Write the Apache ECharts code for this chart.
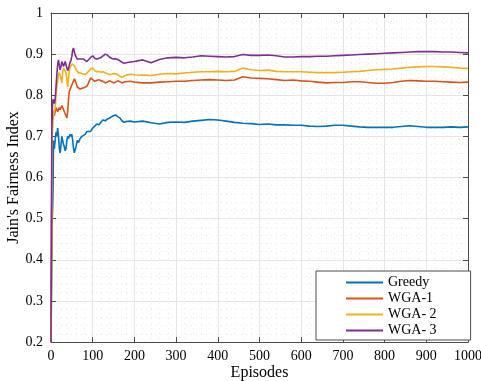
<!DOCTYPE html>
<html>
<head>
<meta charset="utf-8">
<script src="https://cdn.jsdelivr.net/npm/echarts@6/dist/echarts.min.js"></script>
<style>
  html, body { margin: 0; padding: 0; background: #fff; }
  #chart { width: 481px; height: 381px; }
</style>
</head>
<body>
<div id="chart"></div>
<script>
// episodes at which the curves were sampled
const episodes = [
  0, 1, 2, 3, 4, 5, 6, 8, 10, 12, 14, 16, 18, 20, 22, 24, 26, 28, 30, 32, 34, 36, 38, 40,
  42, 44, 46, 48, 50, 52, 54, 56, 58, 60, 63, 66, 70, 74, 78, 82, 86, 90, 95, 100, 105,
  110, 115, 120, 125, 130, 135, 140, 145, 150, 155, 160, 165, 170, 175, 180, 190,
  200, 220, 240, 260, 280, 300, 320, 340, 360, 380, 400, 420, 440, 460, 480, 500,
  520, 540, 560, 580, 600, 620, 640, 660, 680, 700, 720, 740, 760, 780, 800, 820,
  840, 860, 880, 900, 920, 940, 960, 980, 1000
];

const greedy = [
  0.20, 0.30, 0.42, 0.50, 0.53, 0.58, 0.69, 0.67, 0.69, 0.71, 0.70, 0.72, 0.70, 0.67, 0.66, 0.68,
  0.70, 0.69, 0.68, 0.675, 0.665, 0.67, 0.69, 0.70, 0.695, 0.70, 0.705, 0.70, 0.705, 0.69, 0.67, 0.66,
  0.662, 0.675, 0.69, 0.685, 0.695, 0.70, 0.698, 0.705, 0.712, 0.715, 0.712, 0.72, 0.725,
  0.73, 0.728, 0.735, 0.74, 0.738, 0.742, 0.744, 0.748, 0.75, 0.752, 0.748, 0.745, 0.738, 0.734, 0.736, 0.737,
  0.735, 0.737, 0.733, 0.730, 0.734, 0.735, 0.734, 0.737, 0.739, 0.741, 0.740, 0.737, 0.734, 0.732, 0.731, 0.729,
  0.730, 0.728, 0.728, 0.727, 0.727, 0.725, 0.724, 0.725, 0.727, 0.727, 0.725, 0.723, 0.722, 0.722, 0.722, 0.722,
  0.724, 0.726, 0.724, 0.722, 0.722, 0.722, 0.723, 0.722, 0.723
];

const wga1 = [
  0.20, 0.40, 0.62, 0.72, 0.74, 0.75, 0.76, 0.75, 0.76, 0.77, 0.768, 0.76, 0.765, 0.77, 0.765, 0.768,
  0.775, 0.77, 0.765, 0.76, 0.755, 0.75, 0.745, 0.76, 0.79, 0.81, 0.815, 0.82, 0.825, 0.83, 0.835, 0.84,
  0.842, 0.83, 0.82, 0.818, 0.815, 0.813, 0.818, 0.82, 0.822, 0.83, 0.842, 0.838, 0.834,
  0.836, 0.838, 0.835, 0.834, 0.83, 0.832, 0.835, 0.833, 0.83, 0.832, 0.835, 0.833, 0.83, 0.832, 0.833, 0.834,
  0.832, 0.830, 0.830, 0.832, 0.833, 0.834, 0.834, 0.836, 0.837, 0.838, 0.837, 0.836, 0.837, 0.845, 0.842, 0.841,
  0.840, 0.838, 0.836, 0.837, 0.835, 0.834, 0.832, 0.830, 0.831, 0.831, 0.833, 0.833, 0.831, 0.829, 0.829, 0.831,
  0.834, 0.836, 0.835, 0.834, 0.834, 0.833, 0.832, 0.831, 0.832
];

const wga2 = [
  0.20, 0.35, 0.55, 0.70, 0.74, 0.76, 0.75, 0.76, 0.77, 0.80, 0.82, 0.835, 0.85, 0.855, 0.858, 0.84,
  0.83, 0.855, 0.866, 0.868, 0.87, 0.855, 0.84, 0.82, 0.84, 0.86, 0.868, 0.872, 0.876, 0.88, 0.878, 0.872,
  0.868, 0.862, 0.858, 0.855, 0.855, 0.853, 0.852, 0.85, 0.85, 0.858, 0.864, 0.866, 0.86,
  0.857, 0.858, 0.856, 0.857, 0.855, 0.852, 0.85, 0.851, 0.853, 0.852, 0.85, 0.846, 0.844, 0.846, 0.849, 0.851,
  0.850, 0.849, 0.848, 0.851, 0.853, 0.852, 0.854, 0.856, 0.857, 0.857, 0.858, 0.857, 0.858, 0.866, 0.862, 0.860,
  0.861, 0.858, 0.857, 0.857, 0.857, 0.856, 0.855, 0.855, 0.855, 0.856, 0.857, 0.858, 0.860, 0.862, 0.863, 0.864,
  0.866, 0.868, 0.869, 0.870, 0.870, 0.869, 0.868, 0.866, 0.865
];

const wga3 = [
  0.20, 0.50, 0.72, 0.75, 0.79, 0.785, 0.79, 0.78, 0.79, 0.82, 0.85, 0.875, 0.886, 0.872, 0.862, 0.87,
  0.882, 0.878, 0.87, 0.876, 0.882, 0.874, 0.866, 0.86, 0.865, 0.874, 0.88, 0.885, 0.895, 0.91, 0.915, 0.905,
  0.898, 0.895, 0.888, 0.886, 0.888, 0.886, 0.888, 0.884, 0.882, 0.88, 0.892, 0.896, 0.89,
  0.888, 0.89, 0.892, 0.896, 0.90, 0.898, 0.893, 0.89, 0.888, 0.889, 0.887, 0.884, 0.88, 0.878, 0.879, 0.881,
  0.882, 0.886, 0.879, 0.887, 0.891, 0.892, 0.891, 0.893, 0.896, 0.895, 0.894, 0.893, 0.894, 0.899, 0.897, 0.897,
  0.898, 0.896, 0.893, 0.893, 0.894, 0.894, 0.895, 0.895, 0.896, 0.897, 0.898, 0.899, 0.900, 0.901, 0.902, 0.903,
  0.904, 0.905, 0.906, 0.906, 0.906, 0.905, 0.905, 0.904, 0.903
];

const seriesNames = ['Greedy', 'WGA-1', 'WGA- 2', 'WGA- 3'];
const seriesValues = [greedy, wga1, wga2, wga3];
const colors = ['#0072BD', '#D95319', '#EDB120', '#7E2F8E'];

const serif = 'Liberation Serif';
const axisColor = '#4a4a4a';

const chart = echarts.init(document.getElementById('chart'));

// common look of the box axes (MATLAB style, ticks inside)
const boxAxis = {
  axisLine: { show: true, onZero: false, lineStyle: { color: axisColor, width: 1 } },
  axisTick: { show: true, inside: true, length: 5, lineStyle: { color: axisColor } }
};

const option = {
  animation: false,
  backgroundColor: '#fff',
  color: colors,
  grid: { left: 51, right: 13, top: 13, bottom: 39, containLabel: false, outerBoundsMode: 'none' },
  legend: {
    orient: 'vertical',
    left: 316,
    top: 271,
    icon: 'rect',
    itemWidth: 37,
    itemHeight: 2,
    itemGap: 1,
    padding: [4, 34, 2, 30],
    borderColor: axisColor,
    borderWidth: 1,
    backgroundColor: '#fff',
    textStyle: { fontFamily: serif, fontSize: 14, color: '#000', lineHeight: 15 },
    data: seriesNames
  },
  xAxis: [
    Object.assign({
      type: 'value',
      min: 0,
      max: 1000,
      interval: 100,
      name: 'Episodes',
      nameLocation: 'middle',
      nameGap: 23,
      nameMoveOverlap: false,
      nameTextStyle: { fontFamily: serif, fontSize: 16, color: '#000' },
      axisLabel: { fontFamily: serif, fontSize: 14, color: '#000', margin: 7, formatter: v => String(v) },
      splitLine: { show: true, lineStyle: { color: '#e6e6e6', width: 1 } },
      minorTick: { show: false, splitNumber: 5 },
      minorSplitLine: { show: true, lineStyle: { color: '#e9e9e9', type: [1, 4], width: 1 } }
    }, boxAxis),
    Object.assign({
      type: 'value',
      position: 'top',
      min: 0,
      max: 1000,
      interval: 100,
      axisLabel: { show: false },
      splitLine: { show: false }
    }, boxAxis)
  ],
  yAxis: [
    Object.assign({
      type: 'value',
      min: 0.2,
      max: 1,
      interval: 0.1,
      name: "Jain's Fairness Index",
      nameLocation: 'middle',
      nameGap: 29,
      nameMoveOverlap: false,
      nameTextStyle: { fontFamily: serif, fontSize: 16, color: '#000' },
      axisLabel: { fontFamily: serif, fontSize: 14, color: '#000', margin: 8 },
      splitLine: { show: true, lineStyle: { color: '#e6e6e6', width: 1 } },
      minorTick: { show: false, splitNumber: 5 },
      minorSplitLine: { show: true, lineStyle: { color: '#e9e9e9', type: [1, 4], width: 1 } }
    }, boxAxis),
    Object.assign({
      type: 'value',
      position: 'right',
      min: 0.2,
      max: 1,
      interval: 0.1,
      axisLabel: { show: false },
      splitLine: { show: false }
    }, boxAxis)
  ],
  series: seriesNames.map((name, i) => ({
    name: name,
    type: 'line',
    xAxisIndex: 0,
    yAxisIndex: 0,
    showSymbol: false,
    symbol: 'none',
    lineStyle: { width: 1.6, color: colors[i] },
    itemStyle: { color: colors[i] },
    data: episodes.map((ep, k) => [ep, seriesValues[i][k]])
  }))
};

chart.setOption(option);
</script>
</body>
</html>
